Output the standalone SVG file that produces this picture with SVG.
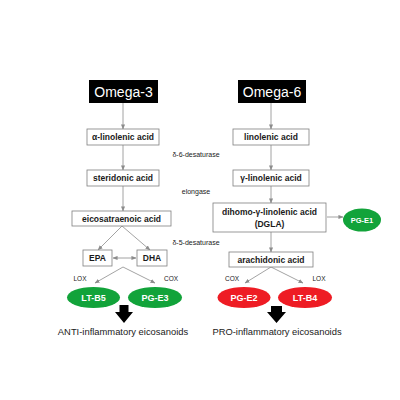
<svg xmlns="http://www.w3.org/2000/svg" width="400" height="400" viewBox="0 0 400 400">
<defs>
<style>
.box{fill:#fff;stroke:#7f7f7f;stroke-width:0.8}
.hdr{fill:#000}
.ht{font-family:"Liberation Sans",Arial,sans-serif;font-size:14px;fill:#fff;text-anchor:middle}
.bt{font-family:"Liberation Sans",Arial,sans-serif;font-size:8.5px;font-weight:bold;fill:#1a1a1a;text-anchor:middle}
.st{font-family:"Liberation Sans",Arial,sans-serif;font-size:7px;fill:#1a1a1a;text-anchor:middle}
.lt{font-family:"Liberation Sans",Arial,sans-serif;font-size:6.5px;fill:#1a1a1a;text-anchor:middle}
.et{font-family:"Liberation Sans",Arial,sans-serif;font-size:9px;font-weight:bold;fill:#fff;text-anchor:middle}
.ft{font-family:"Liberation Sans",Arial,sans-serif;font-size:9.4px;fill:#1a1a1a;text-anchor:middle}
.ln{stroke:#8c8c8c;stroke-width:0.8;fill:none;marker-end:url(#ah)}
.green{fill:#12a33a}
.red{fill:#ee1c24}
</style>
<marker id="ah" viewBox="0 0 6 6" refX="5.5" refY="3" markerWidth="5" markerHeight="5" markerUnits="userSpaceOnUse" orient="auto-start-reverse">
<path d="M0,0.5 L6,3 L0,5.5 Z" fill="#8c8c8c"/>
</marker>
</defs>

<g id="connectors">
<line class="ln" x1="123" y1="103" x2="123" y2="129"/>
<line class="ln" x1="123" y1="145" x2="123" y2="170"/>
<line class="ln" x1="123" y1="186" x2="123" y2="211"/>
<line class="ln" x1="122" y1="226" x2="98" y2="250"/>
<line class="ln" x1="122" y1="226" x2="150" y2="250"/>
<line class="ln" x1="113" y1="258" x2="136" y2="258" style="marker-start:url(#ah)"/>
<line class="ln" x1="123" y1="267" x2="95" y2="283"/>
<line class="ln" x1="123" y1="267" x2="155" y2="283"/>
<line class="ln" x1="271" y1="103" x2="271" y2="129"/>
<line class="ln" x1="271" y1="145" x2="271" y2="170"/>
<line class="ln" x1="271" y1="186" x2="271" y2="203"/>
<line class="ln" x1="271" y1="232" x2="271" y2="252"/>
<line class="ln" x1="271" y1="267" x2="245" y2="283"/>
<line class="ln" x1="271" y1="267" x2="303" y2="283"/>
<line class="ln" x1="327" y1="217" x2="343" y2="217"/>
</g>

<g id="omega3"><rect class="hdr" x="89" y="80" width="69" height="23"/><text class="ht" x="123.5" y="96.5">Omega-3</text></g>
<g id="omega6"><rect class="hdr" x="238" y="80" width="68" height="23"/><text class="ht" x="272" y="96.5">Omega-6</text></g>

<g id="ala"><rect class="box" x="87" y="129" width="72" height="16"/><text class="bt" x="123" y="140">α-linolenic acid</text></g>
<g id="sda"><rect class="box" x="87" y="170" width="72" height="16"/><text class="bt" x="123" y="181">steridonic acid</text></g>
<g id="eta"><rect class="box" x="72" y="211" width="99" height="15"/><text class="bt" x="121.5" y="221.5">eicosatraenoic acid</text></g>
<g id="epa"><rect class="box" x="83" y="250" width="29" height="16"/><text class="bt" x="97.5" y="261">EPA</text></g>
<g id="dha"><rect class="box" x="137" y="250" width="30" height="16"/><text class="bt" x="152" y="261">DHA</text></g>

<g id="la"><rect class="box" x="233" y="129" width="76" height="16"/><text class="bt" x="271" y="140">linolenic acid</text></g>
<g id="gla"><rect class="box" x="233" y="170" width="76" height="16"/><text class="bt" x="271" y="181">γ-linolenic acid</text></g>
<g id="dgla"><rect class="box" x="213" y="203" width="113" height="29"/><text class="bt" x="269.5" y="215">dihomo-γ-linolenic acid</text><text class="bt" x="269.5" y="227">(DGLA)</text></g>
<g id="aa"><rect class="box" x="229" y="252" width="84" height="15"/><text class="bt" x="271" y="262.5">arachidonic acid</text></g>

<g id="labels">
<text class="st" x="196" y="157">δ-6-desaturase</text>
<text class="st" x="196" y="194">elongase</text>
<text class="st" x="196" y="245">δ-5-desaturase</text>
<text class="lt" x="80" y="281">LOX</text>
<text class="lt" x="171" y="281">COX</text>
<text class="lt" x="232" y="281">COX</text>
<text class="lt" x="319" y="281">LOX</text>
</g>

<g id="ltb5"><ellipse class="green" cx="93.5" cy="297.5" rx="26.5" ry="10.5"/><text class="et" x="93.5" y="300.5">LT-B5</text></g>
<g id="pge3"><ellipse class="green" cx="155" cy="297.5" rx="27" ry="10.5"/><text class="et" x="155" y="300.5">PG-E3</text></g>
<g id="pge2"><ellipse class="red" cx="244" cy="297.5" rx="26.5" ry="10.5"/><text class="et" x="244" y="300.5">PG-E2</text></g>
<g id="ltb4"><ellipse class="red" cx="305" cy="297.5" rx="27" ry="10.5"/><text class="et" x="305" y="300.5">LT-B4</text></g>
<g id="pge1"><ellipse class="green" cx="362" cy="220" rx="19" ry="11.5"/><text class="et" x="362" y="223" style="font-size:7.5px">PG-E1</text></g>

<g id="anti">
<path d="M119.5,305 H128.5 V312 H133 L124,323 L115,312 H119.5 Z" fill="#000"/>
<text class="ft" x="123" y="335">ANTI-inflammatory eicosanoids</text>
</g>
<g id="pro">
<path d="M271,306 H282 V312 H286 L276.5,323 L267,312 H271 Z" fill="#000"/>
<text class="ft" x="277" y="335">PRO-inflammatory eicosanoids</text>
</g>
</svg>
